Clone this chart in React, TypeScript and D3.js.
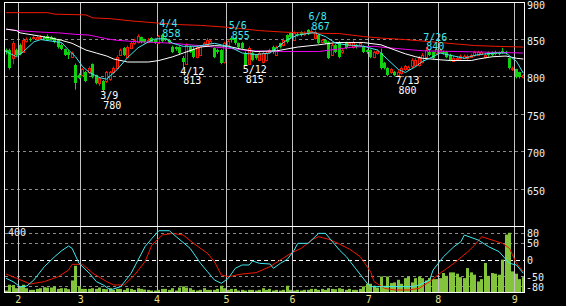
import React from 'react';
import * as d3 from 'd3';

const W = 566;
const H = 306;

// [open, high, low, close] per trading day
const candles: [number, number, number, number][] = [
  [836, 838, 830, 833], [836, 838, 810, 812], [825, 848, 817, 846], [836, 838, 828, 830], [843, 845, 829, 831],
  [834, 852, 832, 850], [848, 853, 846, 851], [851, 853, 847, 849], [852, 856, 850, 854], [851, 855, 850, 853],
  [852, 856, 850, 854], [853, 855, 850, 851], [855, 857, 848, 849], [853, 855, 849, 850], [852, 853, 845, 847],
  [850, 851, 838, 840], [843, 845, 836, 838], [837, 838, 828, 830], [834, 836, 824, 829], [827, 834, 825, 832],
  [816, 818, 783, 792], [803, 805, 797, 799], [803, 812, 801, 810], [806, 808, 793, 795], [806, 814, 804, 812],
  [817, 818, 798, 800], [802, 803, 790, 792], [792, 800, 788, 798], [794, 796, 780, 782], [794, 808, 792, 806],
  [797, 808, 795, 806], [806, 814, 804, 812], [812, 829, 810, 827], [830, 838, 828, 836], [839, 840, 828, 830],
  [827, 842, 825, 840], [839, 847, 837, 845], [845, 851, 843, 849], [847, 857, 845, 855], [853, 854, 845, 847],
  [850, 851, 845, 847], [847, 852, 845, 850], [852, 853, 846, 847], [850, 851, 844, 846], [846, 856, 844, 855],
  [856, 858, 846, 848], [852, 853, 848, 849], [849, 850, 844, 846], [840, 842, 832, 834], [840, 841, 835, 837],
  [840, 841, 830, 832], [826, 828, 813, 820], [818, 845, 816, 843], [840, 842, 832, 834], [838, 840, 825, 827],
  [827, 842, 825, 840], [830, 842, 828, 840], [843, 847, 841, 845], [843, 852, 841, 850], [846, 850, 844, 848],
  [839, 840, 825, 827], [836, 838, 831, 833], [836, 837, 817, 819], [820, 847, 818, 845], [843, 850, 840, 848],
  [852, 855, 846, 849], [852, 853, 843, 845], [845, 846, 838, 840], [846, 847, 837, 839], [832, 834, 815, 816],
  [817, 841, 816, 839], [832, 834, 821, 823], [829, 830, 823, 825], [823, 834, 821, 832], [820, 834, 818, 832],
  [823, 834, 821, 832], [833, 838, 831, 836], [840, 842, 831, 833], [830, 842, 828, 840], [845, 846, 838, 840],
  [843, 852, 841, 850], [856, 857, 845, 847], [859, 860, 851, 853], [850, 861, 848, 859], [858, 860, 854, 856],
  [860, 861, 854, 856], [857, 861, 855, 859], [863, 864, 856, 858], [860, 867, 858, 862], [852, 862, 850, 860],
  [856, 857, 844, 846], [847, 851, 845, 849], [849, 850, 844, 846], [847, 848, 824, 826], [830, 845, 828, 843],
  [843, 844, 832, 834], [847, 848, 825, 827], [833, 838, 831, 836], [846, 847, 837, 839], [843, 847, 841, 845],
  [840, 849, 838, 847], [843, 844, 838, 840], [843, 847, 841, 845], [841, 842, 832, 834], [836, 837, 831, 833],
  [836, 837, 825, 827], [827, 835, 825, 833], [832, 837, 830, 835], [832, 838, 810, 812], [819, 820, 810, 812],
  [812, 813, 801, 803], [806, 812, 804, 810], [807, 808, 801, 803], [803, 809, 800, 807], [805, 814, 803, 812],
  [810, 816, 808, 814], [810, 815, 808, 813], [814, 825, 812, 823], [816, 825, 814, 823], [816, 828, 814, 826],
  [820, 832, 818, 830], [827, 840, 825, 836], [834, 836, 828, 830], [833, 834, 824, 826], [832, 838, 830, 837],
  [834, 838, 832, 836], [834, 835, 830, 832], [834, 835, 825, 827], [830, 831, 821, 823], [822, 828, 820, 826],
  [824, 828, 822, 826], [825, 830, 823, 828], [826, 830, 824, 828], [825, 830, 823, 828], [827, 831, 825, 829],
  [829, 835, 827, 833], [830, 835, 828, 833], [831, 835, 829, 833], [827, 832, 825, 830], [833, 834, 827, 829],
  [833, 834, 828, 830], [834, 835, 829, 831], [833, 834, 829, 831], [835, 839, 831, 833], [834, 835, 830, 832],
  [825, 826, 810, 812], [810, 814, 808, 812], [810, 811, 798, 800], [806, 807, 798, 800], [800, 804, 798, 802],
];

const volumes: number[] = [
  12, 47, 45, 26, 37, 47, 26, 16, 16, 22, 26, 32, 30, 30, 37, 22, 26, 26, 20, 73,
  162, 37, 22, 22, 22, 26, 22, 30, 22, 20, 26, 16, 22, 22, 16, 26, 22, 16, 26, 22,
  18, 16, 12, 12, 16, 22, 22, 16, 26, 12, 30, 37, 30, 26, 16, 12, 16, 26, 16, 16,
  16, 22, 41, 26, 16, 22, 22, 12, 16, 12, 16, 16, 12, 16, 26, 16, 22, 12, 16, 12,
  16, 41, 16, 12, 16, 12, 16, 16, 22, 22, 16, 22, 16, 26, 22, 20, 26, 22, 16, 22,
  16, 16, 22, 37, 53, 53, 41, 30, 97, 41, 97, 57, 61, 77, 53, 87, 97, 61, 87, 97,
  87, 73, 87, 81, 81, 87, 118, 101, 122, 122, 114, 93, 87, 148, 122, 108, 67, 81, 179, 101,
  118, 114, 108, 199, 351, 362, 128, 114, 81, 93,
];

// [day index, value]
const maRed: [number, number][] = [
  [0, 886], [12, 886], [14, 884], [23, 883], [25, 879], [30, 878], [36, 875], [44, 872], [50, 870],
  [56, 869], [65, 866], [73, 862], [80, 860], [85, 859], [96, 858], [103, 854], [108, 852], [115, 850],
  [125, 846], [135, 842], [141, 841], [149, 840],
];
const maMagenta: [number, number][] = [
  [0, 864], [3, 862], [10, 860], [15, 859], [20, 857], [24, 856], [27, 853], [29, 851], [32, 849],
  [38, 847], [44, 846], [48, 845], [53, 843], [60, 840], [65, 838], [70, 835], [80, 834], [90, 834],
  [95, 837], [100, 840], [106, 841], [110, 839], [115, 837], [120, 835], [130, 834], [140, 833], [149, 832],
];
const maWhite: [number, number][] = [
  [0, 864], [3, 862], [4, 859], [8, 856], [13, 852], [16, 849], [19, 845], [23, 836], [26, 832],
  [29, 828], [31, 824], [35, 820], [41, 820], [44, 822], [48, 827], [51, 832], [56, 840], [60, 842],
  [64, 841], [68, 837], [72, 834], [78, 835], [84, 840], [90, 843], [95, 846], [103, 846], [108, 843],
  [112, 836], [115, 831], [118, 827], [120, 825], [125, 823], [128, 822], [134, 822], [136, 824],
  [140, 827], [144, 828], [147, 825], [149, 824],
];
const maCyan: [number, number][] = [
  [0, 834], [3, 827], [5, 834], [8, 847], [10, 850], [16, 846], [18, 836], [20, 827], [22, 814],
  [24, 806], [27, 799], [29, 797], [32, 810], [35, 826], [38, 839], [41, 847], [43, 851], [46, 851],
  [48, 845], [51, 841], [55, 841], [60, 845], [62, 843], [65, 839], [68, 832], [72, 830], [76, 832],
  [78, 839], [81, 850], [84, 856], [88, 859], [89, 859], [92, 854], [95, 845], [98, 843], [103, 841],
  [107, 836], [110, 823], [113, 810], [115, 806], [118, 814], [120, 821], [122, 825], [125, 832],
  [128, 829], [132, 825], [136, 830], [141, 832], [144, 832], [147, 821], [149, 805],
];
const oscCyan: [number, number][] = [
  [0, -55], [2, -65], [4, -80], [6, -78], [8, -60], [11, -20], [14, 10], [16, 28], [18, 42], [19, 35],
  [21, -10], [24, -40], [26, -65], [28, -75], [30, -90], [33, -80], [36, -40], [38, 0], [40, 40],
  [42, 65], [44, 88], [47, 88], [49, 70], [53, 35], [56, -10], [58, -35], [60, -60], [62, -70],
  [64, -55], [66, -25], [68, -15], [70, -15], [71, -3], [73, -10], [76, -12], [77, -25], [79, -10],
  [81, 2], [83, 30], [84, 50], [87, 50], [90, 80], [92, 80], [96, 30], [98, 10], [101, -30],
  [104, -70], [105, -80], [108, -80], [112, -80], [117, -80], [119, -75], [122, -60], [123, -30],
  [126, 10], [129, 40], [131, 55], [132, 75], [136, 60], [139, 40], [142, 25], [145, -10], [147, -15],
  [149, -40],
];
const oscRed: [number, number][] = [
  [0, -42], [3, -55], [7, -72], [11, -65], [15, -50], [18, -30], [19, -13], [22, -13], [25, -40],
  [29, -65], [31, -75], [34, -75], [37, -45], [40, -5], [42, 45], [45, 75], [48, 80], [51, 75],
  [54, 50], [58, 20], [60, -5], [62, -45], [64, -50], [68, -42], [72, -38], [76, -20], [79, 0],
  [82, 20], [85, 35], [88, 60], [90, 70], [93, 62], [96, 48], [99, 32], [102, 10], [105, -35],
  [106, -65], [109, -85], [112, -90], [116, -90], [119, -85], [122, -65], [125, -40], [129, -10],
  [133, 25], [135, 45], [137, 70], [140, 60], [143, 50], [145, 35], [147, -10], [149, -35],
];

const monthStarts = [4, 22, 44, 64, 83, 105, 125, 147];
const monthLabels = ['2', '3', '4', '5', '6', '7', '8', '9'];
const priceTicks = [900, 850, 800, 750, 700, 650];
const oscTicks = [80, 50, 0, -50, -80];

const highMarks = [
  { i: 45, date: '4/4', price: 858 },
  { i: 65, date: '5/6', price: 855 },
  { i: 88, date: '6/8', price: 867 },
  { i: 121, date: '7/26', price: 840 },
];
const lowMarks = [
  { i: 28, date: '3/9', price: 780 },
  { i: 51, date: '4/12', price: 813 },
  { i: 69, date: '5/12', price: 815 },
  { i: 113, date: '7/13', price: 800 },
];

const FONT = '"DejaVu Sans Mono", monospace';
const FS = 10;
const RED = '#f01800';
const GREEN = '#10d010';
const CYAN = '#40e8f0';

export default function App() {
  const xs = d3.scaleLinear().domain([0, 150]).range([4.4, 525.1]);
  const ys = d3.scaleLinear().domain([600, 900]).range([226.5, 2.2]);
  const yo = d3.scaleLinear().domain([-100, 100]).range([293.3, 226.7]);
  const yv = d3.scaleLinear().domain([0, 400]).range([292.5, 226.5]);
  const cx = (i: number) => xs(i + 0.5);

  const priceLine = d3
    .line<[number, number]>()
    .x((d) => cx(d[0]))
    .y((d) => ys(d[1]));
  const oscLine = d3
    .line<[number, number]>()
    .x((d) => cx(d[0]))
    .y((d) => yo(d[1]));

  const crisp = (v: number) => Math.floor(v) + 0.5;

  return (
    <svg
      width={W}
      height={H}
      style={{ position: 'absolute', left: 0, top: 0, display: 'block', background: '#000' }}
    >
      <rect x={0} y={0} width={W} height={H} fill="#000" />

      {priceTicks
        .filter((v) => v < 900)
        .map((v) => (
          <line
            key={'pg' + v}
            x1={5}
            x2={524}
            y1={crisp(ys(v))}
            y2={crisp(ys(v))}
            stroke="#8a8a8a"
            strokeDasharray="3,3"
          />
        ))}
      {oscTicks.map((v) => (
        <line
          key={'og' + v}
          x1={5}
          x2={524}
          y1={crisp(yo(v))}
          y2={crisp(yo(v))}
          stroke={v === 0 ? '#ffffff' : '#8a8a8a'}
          strokeDasharray={v === 0 ? '4,3' : '3,3'}
        />
      ))}

      {monthStarts.map((k) => (
        <line
          key={'m' + k}
          x1={crisp(xs(k))}
          x2={crisp(xs(k))}
          y1={2}
          y2={293}
          stroke="#c4c4c4"
        />
      ))}

      {volumes.map((v, i) => {
        const left = Math.round(cx(i) - 1.5);
        return (
          <rect
            key={'v' + i}
            x={left}
            y={yv(v)}
            width={3}
            height={yv(0) - yv(v)}
            fill="#84c43c"
          />
        );
      })}

      <path d={oscLine(oscRed) || ''} fill="none" stroke={RED} strokeWidth={1} />
      <path d={oscLine(oscCyan) || ''} fill="none" stroke={CYAN} strokeWidth={1} />

      {candles.map(([o, h, l, c], i) => {
        const left = Math.round(cx(i) - 1.5);
        const up = c > o;
        const col = up ? RED : GREEN;
        const top = ys(Math.max(o, c));
        const bot = ys(Math.min(o, c));
        const wx = left + 1.5;
        return (
          <g key={'c' + i}>
            <line x1={wx} x2={wx} y1={ys(h)} y2={ys(l)} stroke={col} strokeWidth={1} />
            {up ? (
              <rect
                x={left + 0.5}
                y={Math.round(top) + 0.5}
                width={2}
                height={Math.max(1, Math.round(bot) - Math.round(top))}
                fill="#000"
                stroke={col}
                strokeWidth={1}
              />
            ) : (
              <rect
                x={left}
                y={Math.round(top)}
                width={3}
                height={Math.max(1, Math.round(bot) - Math.round(top))}
                fill={col}
              />
            )}
          </g>
        );
      })}

      <path d={priceLine(maRed) || ''} fill="none" stroke={RED} strokeWidth={1} />
      <path d={priceLine(maMagenta) || ''} fill="none" stroke="#f000f0" strokeWidth={1} />
      <path d={priceLine(maWhite) || ''} fill="none" stroke="#ffffff" strokeWidth={1} />
      <path d={priceLine(maCyan) || ''} fill="none" stroke={CYAN} strokeWidth={1} />

      {highMarks.map((m) => (
        <g key={'h' + m.i} fill={CYAN} fontFamily={FONT} fontSize={FS}>
          <text x={cx(m.i) - 3} y={ys(m.price) - 6.5}>
            {m.date}
          </text>
          <text x={cx(m.i)} y={ys(m.price) + 3}>
            {m.price}
          </text>
        </g>
      ))}
      {lowMarks.map((m) => (
        <g key={'l' + m.i} fill="#ffffff" fontFamily={FONT} fontSize={FS}>
          <text x={cx(m.i) - 3} y={ys(m.price) + 7.5}>
            {m.date}
          </text>
          <text x={cx(m.i)} y={ys(m.price) + 17}>
            {m.price}
          </text>
        </g>
      ))}

      <g stroke="#ffffff" strokeWidth={1}>
        <line x1={4} x2={525} y1={2.5} y2={2.5} />
        <line x1={4.5} x2={4.5} y1={2} y2={293} />
        <line x1={524.5} x2={524.5} y1={2} y2={293} />
        <line x1={4} x2={525} y1={226.5} y2={226.5} />
        <line x1={4} x2={525} y1={292.5} y2={292.5} />
      </g>

      {priceTicks.map((v) => (
        <text
          key={'pl' + v}
          x={527}
          y={Math.max(ys(v) + 5.5, 8.5)}
          fill="#f0f0f0"
          fontFamily={FONT}
          fontSize={FS}
        >
          {v}
        </text>
      ))}
      {oscTicks.map((v) => (
        <text
          key={'ol' + v}
          x={v < 0 ? 526 : 527}
          y={yo(v) + 4}
          fill="#f0f0f0"
          fontFamily={FONT}
          fontSize={FS}
        >
          {v}
        </text>
      ))}
      <text x={8} y={235.5} fill="#f0f0f0" fontFamily={FONT} fontSize={FS}>
        400
      </text>

      {monthStarts.map((k, j) => (
        <text
          key={'ml' + k}
          x={xs(k)}
          y={302.5}
          textAnchor="middle"
          fill="#e8e088"
          fontFamily={FONT}
          fontSize={FS}
        >
          {monthLabels[j]}
        </text>
      ))}
    </svg>
  );
}
